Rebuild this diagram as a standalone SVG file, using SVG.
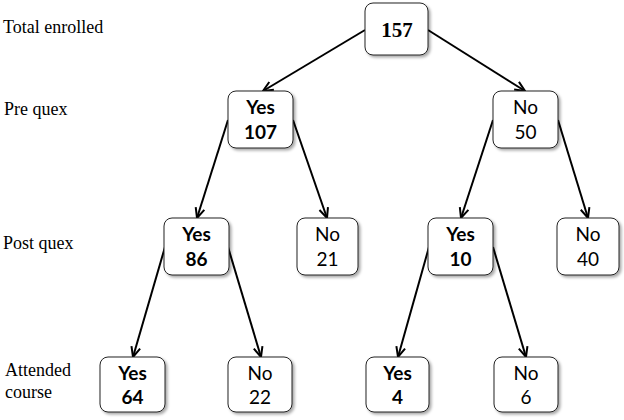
<svg xmlns="http://www.w3.org/2000/svg" width="624" height="420" viewBox="0 0 624 420">
<defs>
<marker id="ah" viewBox="0 0 12 12" refX="11" refY="6" markerWidth="12" markerHeight="12" orient="auto" markerUnits="userSpaceOnUse">
<path d="M1,1.5 L11,6 L1,10.5" fill="none" stroke="#000" stroke-width="2" stroke-linejoin="miter"/>
</marker>
<filter id="sh" x="-20%" y="-20%" width="150%" height="150%">
<feGaussianBlur in="SourceAlpha" stdDeviation="1.5"/>
<feOffset dx="1.5" dy="1.5" result="b"/>
<feComponentTransfer><feFuncA type="linear" slope="0.35"/></feComponentTransfer>
<feMerge><feMergeNode/><feMergeNode in="SourceGraphic"/></feMerge>
</filter>
</defs>
<style>
.box{fill:#fff;stroke:#222;stroke-width:1;filter:url(#sh)}
.lbl{font-family:"Liberation Serif","Times New Roman",serif;font-size:18px;fill:#000}
.t{font-family:Lato,"Liberation Sans",sans-serif;font-size:19px;fill:#000;text-anchor:middle}
.b{font-weight:bold}
.root{font-family:"Liberation Serif","Times New Roman",serif;font-size:21px;font-weight:bold;text-anchor:middle}
.c line{stroke:#000;stroke-width:2;marker-end:url(#ah)}
</style>
<rect width="624" height="420" fill="#fff"/>
<g id="labels">
<text class="lbl" x="3" y="33">Total enrolled</text>
<text class="lbl" x="4" y="115">Pre quex</text>
<text class="lbl" x="3" y="249">Post quex</text>
<text class="lbl" x="5" y="376">Attended</text>
<text class="lbl" x="5" y="398">course</text>
</g>
<g class="c" id="connectors">
<line x1="365" y1="30" x2="263" y2="91"/>
<line x1="428" y1="30" x2="525" y2="91"/>
<line x1="228" y1="120" x2="197" y2="218"/>
<line x1="293" y1="120" x2="327" y2="218"/>
<line x1="493" y1="120" x2="461" y2="218"/>
<line x1="558" y1="120" x2="588" y2="218"/>
<line x1="165" y1="247" x2="133" y2="357"/>
<line x1="228" y1="247" x2="261" y2="357"/>
<line x1="429" y1="247" x2="398" y2="357"/>
<line x1="493" y1="247" x2="526" y2="357"/>
</g>
<g id="n157"><rect class="box" x="365" y="3" width="63" height="52" rx="8"/><text class="root" x="397" y="37">157</text></g>
<g id="nYes107"><rect class="box" x="228" y="91" width="65" height="57" rx="8"/><text class="t b" x="260.5" y="114">Yes</text><text class="t b" x="260.5" y="139">107</text></g>
<g id="nNo50"><rect class="box" x="493" y="91" width="65" height="57" rx="8"/><text class="t" x="525.5" y="114">No</text><text class="t" x="525.5" y="139">50</text></g>
<g id="nYes86"><rect class="box" x="164" y="218" width="65" height="57" rx="8"/><text class="t b" x="196.5" y="241">Yes</text><text class="t b" x="196.5" y="266">86</text></g>
<g id="nNo21"><rect class="box" x="297" y="218" width="61" height="57" rx="8"/><text class="t" x="327.5" y="241">No</text><text class="t" x="327.5" y="266">21</text></g>
<g id="nYes10"><rect class="box" x="428" y="218" width="65" height="57" rx="8"/><text class="t b" x="460.5" y="241">Yes</text><text class="t b" x="460.5" y="266">10</text></g>
<g id="nNo40"><rect class="box" x="557" y="218" width="62" height="57" rx="8"/><text class="t" x="588" y="241">No</text><text class="t" x="588" y="266">40</text></g>
<g id="nYes64"><rect class="box" x="100" y="357" width="65" height="55" rx="8"/><text class="t b" x="132.5" y="380">Yes</text><text class="t b" x="132.5" y="404">64</text></g>
<g id="nNo22"><rect class="box" x="228" y="357" width="64" height="55" rx="8"/><text class="t" x="260" y="380">No</text><text class="t" x="260" y="404">22</text></g>
<g id="nYes4"><rect class="box" x="366" y="357" width="63" height="55" rx="8"/><text class="t b" x="397.5" y="380">Yes</text><text class="t b" x="397.5" y="404">4</text></g>
<g id="nNo6"><rect class="box" x="494" y="357" width="64" height="55" rx="8"/><text class="t" x="526" y="380">No</text><text class="t" x="526" y="404">6</text></g>
</svg>
